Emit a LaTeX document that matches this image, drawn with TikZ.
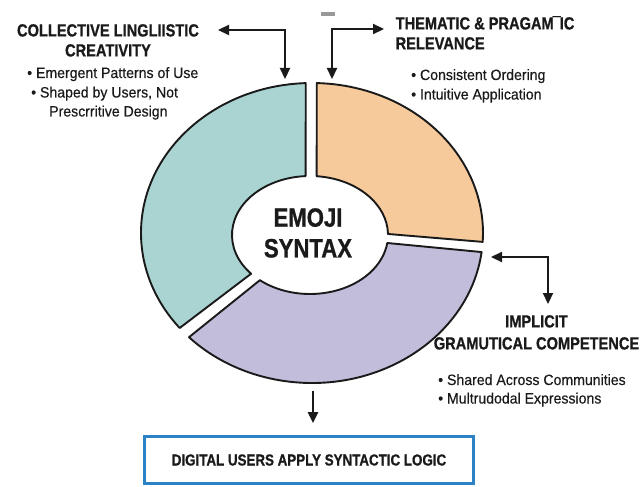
\documentclass[tikz,border=0pt]{standalone}
\usepackage{fontspec}
\setmainfont{Liberation Sans}
\newfontfamily\headfont{Liberation Sans}[FakeStretch=0.835, FakeBold=0.8]
\newfontfamily\listfont{Liberation Sans}[FakeStretch=0.94, FakeBold=0.35]
\usetikzlibrary{arrows.meta,calc}

\definecolor{segteal}{HTML}{AAD4D2}
\definecolor{segorange}{HTML}{F7CA9C}
\definecolor{segpurple}{HTML}{C1BDDB}
\definecolor{boxblue}{HTML}{2B82C6}
\definecolor{ink}{HTML}{1A1A1A}

\begin{document}
\begin{tikzpicture}[x=1pt,y=1pt,
  segment/.style={draw=ink, line width=1.9pt, line join=round},
  link/.style={draw=ink, line width=2.2pt,
    {Triangle[length=11pt,width=10pt]}-{Triangle[length=11pt,width=10pt]}},
  oneway/.style={draw=ink, line width=2.2pt, -{Triangle[length=11pt,width=10pt]}},
  headtext/.style={font=\headfont\bfseries\fontsize{17.5}{20}\selectfont,
    text=ink, inner sep=0pt},
  itemtext/.style={font=\listfont\fontsize{15}{19}\selectfont,
    text=ink, inner sep=0pt, anchor=base west},
]
\useasboundingbox (0,0) rectangle (641,-487);
\fill[white] (0,0) rectangle (641,-487);

% centres of the outer and inner rims of the ring
\coordinate (Co) at (312,-233);
\coordinate (Ci) at (310,-235);

% ring segments
\path[segment, fill=segteal]
  ($(Co)+(92.1:171pt and 150pt)$)
  arc[start angle=92.1, end angle=219.3, x radius=171pt, y radius=150pt]
  -- ($(Ci)+(221:78pt and 59pt)$)
  arc[start angle=221, end angle=93.2, x radius=78pt, y radius=59pt]
  -- cycle;
\path[segment, fill=segorange]
  ($(Co)+(88.4:171pt and 150pt)$)
  arc[start angle=88.4, end angle=-3.4, x radius=171pt, y radius=150pt]
  -- ($(Ci)+(1:78pt and 59pt)$)
  arc[start angle=1, end angle=85.1, x radius=78pt, y radius=59pt]
  -- cycle;
\path[segment, fill=segpurple]
  ($(Co)+(-7.3:171pt and 150pt)$)
  arc[start angle=-7.3, end angle=-136, x radius=171pt, y radius=150pt]
  -- ($(Ci)+(-130:78pt and 59pt)$)
  arc[start angle=-130, end angle=-7.8, x radius=78pt, y radius=59pt]
  -- cycle;

% centre label
\node[headtext, font=\headfont\bfseries\fontsize{26.5}{30.7}\selectfont,
  align=center, anchor=north] (core) at (308,-208) {EMOJI\\SYNTAX};

% small grey mark at the top
\fill[black!40] (321,-12) rectangle (335,-16);

% upper left block
\node[headtext, align=center, anchor=north] (crea) at (108,-24)
  {COLLECTIVE LINGLIISTIC\\CREATIVITY};
\node[itemtext] (creaA) at (27,-78) {• Emergent Patterns of Use};
\node[itemtext] (creaB) at (31,-97.5) {• Shaped by Users, Not};
\node[itemtext] (creaC) at (49,-116.5) {Prescrritive Design};

% upper right block
\node[headtext, align=left, anchor=north west] (them) at (395.5,-16)
  {THEMATIC \& PRAGAM\kern-1pt¯\kern-1pt IC\\RELEVANCE};
\node[itemtext] (themA) at (411,-80) {• Consistent Ordering};
\node[itemtext] (themB) at (411,-99.5) {• Intuitive Application};

% right block
\node[headtext, align=center, anchor=north, font=\headfont\bfseries\fontsize{17.5}{22}\selectfont]
  (impl) at (536.5,-315) {IMPLICIT\\GRAMUTICAL COMPETENCE};
\node[itemtext] (implA) at (438,-385) {• Shared Across Communities};
\node[itemtext] (implB) at (438,-403.5) {• Multrudodal Expressions};

% outcome box
\node[draw=boxblue, line width=2.8pt, minimum width=329pt, minimum height=47pt,
  inner sep=0pt, font=\headfont\bfseries\fontsize{16}{19}\selectfont, text=ink]
  (logic) at (309,-460) {DIGITAL USERS APPLY SYNTACTIC LOGIC};

% connectors
\coordinate (creaEnd) at (218,-30);
\coordinate (tealEnd) at (285,-79);
\draw[link] (creaEnd) -| (tealEnd);

\coordinate (orangeEnd) at (332,-79);
\coordinate (themEnd) at (384,-29);
\draw[link] (orangeEnd) |- (themEnd);

\coordinate (purpleEnd) at (491,-257);
\coordinate (implEnd) at (548,-304);
\draw[link] (purpleEnd) -| (implEnd);

\coordinate (ringFoot) at (313,-391);
\draw[oneway, shorten >=12pt] (ringFoot) -- (ringFoot |- logic.north);
\end{tikzpicture}
\end{document}
